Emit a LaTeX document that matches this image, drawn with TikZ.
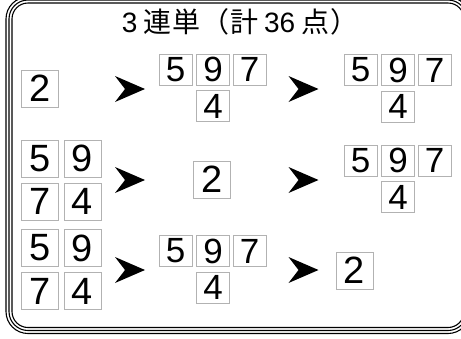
\documentclass[tikz,border=0pt]{standalone}
\usepackage{fontspec}
\setmainfont{Liberation Sans}
\newfontfamily\jpfont[LetterSpace=3]{Noto Sans CJK JP}
\usetikzlibrary{positioning}

\tikzset{
  smallbox/.style={draw=gray!60, line width=0.7pt, inner sep=0pt, minimum width=33pt, minimum height=31pt, font=\fontsize{35}{35}\selectfont},
  bigbox/.style={draw=gray!60, line width=0.7pt, inner sep=0pt, minimum width=37pt, minimum height=37pt, font=\fontsize{38}{38}\selectfont},
  frameline/.style={black, line width=1.1pt},
  pointer/.pic={\fill[black] (-15,-13) -- (15,0) -- (-15,13) -- (-5,0) -- cycle;}
}

\begin{document}
\begin{tikzpicture}[x=1pt, y=-1pt]
    \useasboundingbox (0,0) rectangle (461,338);

    % Triple frame
    \draw[frameline, rounded corners=22pt] (6,-3) rectangle (470,333.5);
    \draw[frameline, rounded corners=19pt] (9,0) rectangle (467,330.5);
    \draw[frameline, rounded corners=16pt] (12,3) rectangle (464,327.5);

    % Title
    \node (title) at (240,22) {\fontsize{28}{28}\selectfont 3\hspace{6pt}{\jpfont 連単（計}\hspace{6pt}36\hspace{6pt}{\jpfont 点）}};

    % Left column
    \node[bigbox] (a2) at (40,88.5) {2};
    \foreach \r/\y in {b/158.5, c/248} {
        \node[bigbox] (\r5) at (40,\y) {5};
        \node[bigbox] (\r9) at (82.5,\y) {9};
        \node[bigbox] (\r7) at (40,\y+43) {7};
        \node[bigbox] (\r4) at (82.5,\y+43) {4};
    }

    % Groups of 5 9 7 / 4
    \foreach \g/\x/\y in {am/175.5/69.5, ar/360.5/70, br/360.5/160.5, cm/175.5/251} {
        \node[smallbox] (\g5) at (\x,\y) {5};
        \node[smallbox] (\g9) at (\x+37.5,\y) {9};
        \node[smallbox] (\g7) at (\x+74,\y) {7};
        \node[smallbox] (\g4) at (\x+37.5,\y+36.5) {4};
    }

    \node[bigbox] (bm2) at (212,179.5) {2};
    \node[bigbox] (cr2) at (354.5,270.5) {2};

    % Pointers
    \foreach \x/\y in {130/89, 303.5/89, 130/180, 303.5/180, 130/270, 303.5/270}
        \pic at (\x,\y) {pointer};
\end{tikzpicture}
\end{document}
